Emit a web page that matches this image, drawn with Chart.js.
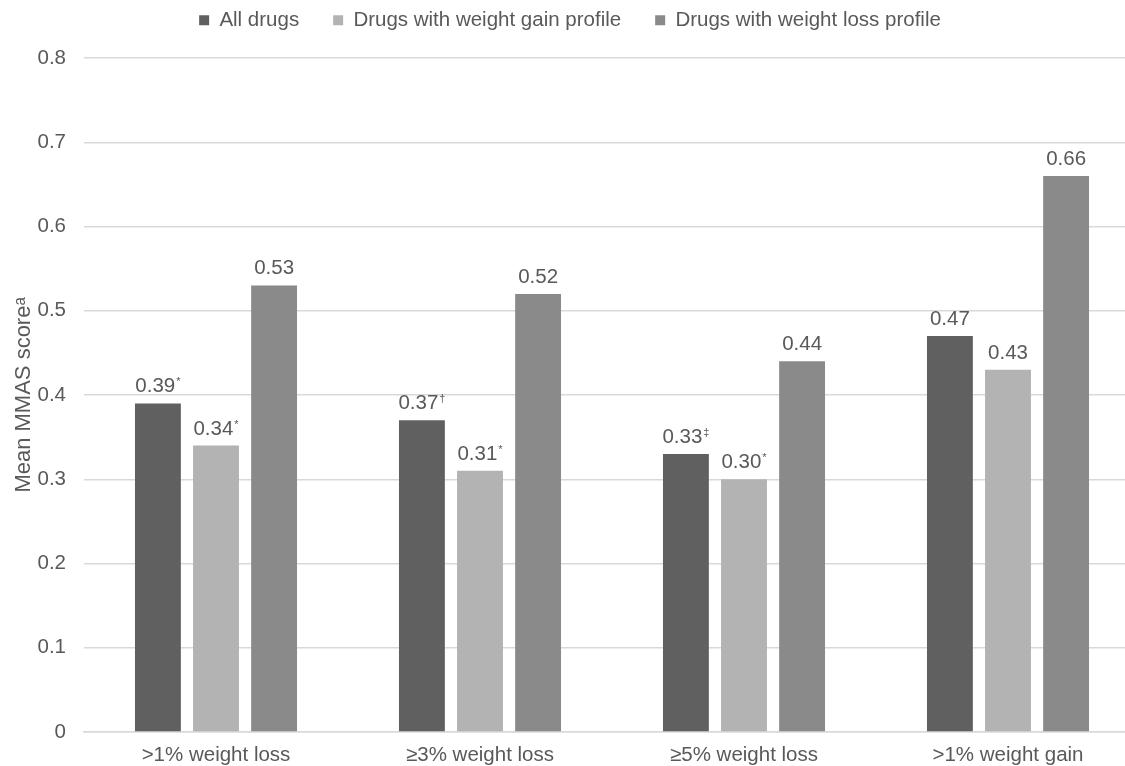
<!DOCTYPE html>
<html>
<head>
<meta charset="utf-8">
<script src="https://cdn.jsdelivr.net/npm/chart.js@4.4.1/dist/chart.umd.min.js"></script>
<style>
    html, body { margin: 0; padding: 0; background: #fff; overflow: hidden; }
    #wrap { width: 1140px; height: 766px; }
</style>
</head>
<body>
<div id="wrap"><canvas id="mmasChart" width="1140" height="766"></canvas></div>
<script>
var categories = ['>1% weight loss', '\u22653% weight loss', '\u22655% weight loss', '>1% weight gain'];
var seriesNames = ['All drugs', 'Drugs with weight gain profile', 'Drugs with weight loss profile'];
var allDrugs = [0.39, 0.37, 0.33, 0.47];
var gainProfile = [0.34, 0.31, 0.30, 0.43];
var lossProfile = [0.53, 0.52, 0.44, 0.66];
var allMarks = ['*', '\u2020', '\u2021', ''];
var gainMarks = ['*', '*', '*', ''];
var lossMarks = ['', '', '', ''];
var yTicks = [0, 0.1, 0.2, 0.3, 0.4, 0.5, 0.6, 0.7, 0.8];

var textColor = '#595959';
var fontName = '"Liberation Sans", Arial, sans-serif';
var fontSize = 20.5;

// legend height fix + value labels with their superscript marks above each bar
var valueLabels = {
    id: 'valueLabels',
    beforeLayout: function(chart) {
        var lg = chart.legend;
        if (lg && !lg._fitWrapped) {
            var origFit = lg.fit;
            lg.fit = function() {
                origFit.call(this);
                this.height = 82;
            };
            lg._fitWrapped = true;
        }
    },
    afterDatasetsDraw: function(chart) {
        var ctx = chart.ctx;
        ctx.save();
        ctx.fillStyle = textColor;
        ctx.textBaseline = 'alphabetic';
        ctx.textAlign = 'left';
        chart.data.datasets.forEach(function(ds, i) {
            var meta = chart.getDatasetMeta(i);
            meta.data.forEach(function(bar, j) {
                var txt = ds.data[j].toFixed(2);
                var sup = ds.marks[j];
                ctx.font = fontSize + 'px ' + fontName;
                var w1 = ctx.measureText(txt).width;
                ctx.font = '11px ' + fontName;
                var w2 = sup ? ctx.measureText(sup).width + 1 : 0;
                var x0 = bar.x - (w1 + w2) / 2;
                var yb = bar.y - 11;
                ctx.font = fontSize + 'px ' + fontName;
                ctx.fillText(txt, x0, yb);
                if (sup) {
                    ctx.font = '11px ' + fontName;
                    ctx.fillText(sup, x0 + w1 + 1, yb - 7);
                }
            });
        });
        ctx.restore();
    }
};

var ctx = document.getElementById('mmasChart');
var myChart = new Chart(ctx, {
    type: 'bar',
    data: {
        labels: categories,
        datasets: [
            { label: seriesNames[0], data: allDrugs, marks: allMarks, backgroundColor: '#606060' },
            { label: seriesNames[1], data: gainProfile, marks: gainMarks, backgroundColor: '#b3b3b3' },
            { label: seriesNames[2], data: lossProfile, marks: lossMarks, backgroundColor: '#8a8a8a' }
        ]
    },
    options: {
        responsive: false,
        animation: false,
        devicePixelRatio: 1,
        categoryPercentage: 0.66,
        barPercentage: 0.79,
        layout: { padding: { top: -24, left: 0, right: 0, bottom: 0 } },
        plugins: {
            legend: {
                position: 'top',
                align: 'center',
                labels: {
                    color: textColor,
                    font: { family: fontName, size: fontSize },
                    boxWidth: 10,
                    boxHeight: 10,
                    padding: 34
                }
            },
            tooltip: { enabled: false }
        },
        scales: {
            x: {
                grid: { display: false, drawTicks: false },
                border: { color: '#d9d9d9', width: 1.5 },
                afterFit: function(scale) { scale.height = 34; },
                ticks: {
                    color: textColor,
                    font: { family: fontName, size: fontSize },
                    padding: 11,
                    maxRotation: 0
                }
            },
            y: {
                min: 0,
                max: 0.8,
                afterBuildTicks: function(axis) {
                    axis.ticks = yTicks.map(function(v) { return { value: v }; });
                },
                afterFit: function(scale) { scale.width = 84; },
                grid: { color: '#d9d9d9', lineWidth: 1.5, drawTicks: false },
                border: { display: false },
                ticks: {
                    color: textColor,
                    font: { family: fontName, size: fontSize },
                    padding: 18,
                    callback: function(v) { return v === 0 ? '0' : v.toFixed(1); }
                },
                title: {
                    display: true,
                    text: 'Mean MMAS score\u1d43',
                    color: textColor,
                    font: { family: fontName, size: 22 },
                    padding: { top: 11, bottom: 0 }
                }
            }
        }
    },
    plugins: [valueLabels]
});
</script>
</body>
</html>
